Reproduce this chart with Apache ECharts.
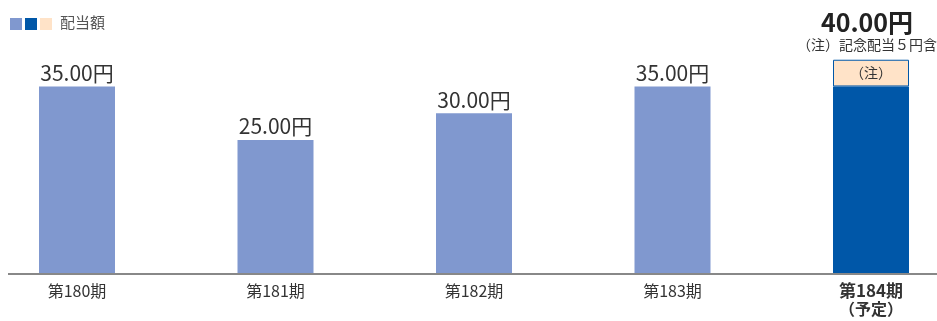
<!DOCTYPE html>
<html><head><meta charset="utf-8">
<script src="https://cdn.jsdelivr.net/npm/echarts@6/dist/echarts.min.js"></script>
<style>html,body{margin:0;padding:0;background:#fff}#c{width:937px;height:321px}</style>
</head><body><div id="c"></div>
<script>
const categories = ['第180期','第181期','第182期','第183期','第184期'];
const ordinaryDividend = [35, 25, 30, 35, 35];
const commemorativeDividend = [null, null, null, null, 5];
const forecastNote = '（予定）';
const noteMark = '（注）';
const noteText = '（注）記念配当５円含';
const legendLabel = '配当額';

const FONT = '"Noto Sans CJK JP", "Noto Sans", sans-serif';
const LIGHT = '#8098cf', DARK = '#0057a8', PEACH = '#ffe3c8';
const last = categories.length - 1;

const chart = echarts.init(document.getElementById('c'), null, {renderer: 'canvas'});
chart.setOption({
  animation: false,
  textStyle: {fontFamily: FONT},
  grid: {left: 77, right: 66, top: 6.3, bottom: 47.5, containLabel: false},
  xAxis: {
    type: 'category', data: categories, boundaryGap: false,
    axisLine: {show: false}, axisTick: {show: false},
    axisLabel: {
      interval: 0, margin: 8,
      formatter: (v, i) => i === last ? '{b|' + v + '}\n{b2|' + forecastNote + '}' : '{n|' + v + '}',
      rich: {
        n: {fontSize: 16, color: '#333', fontFamily: FONT, lineHeight: 18},
        b: {fontSize: 17, fontWeight: 'bold', color: '#333', fontFamily: FONT, lineHeight: 19},
        b2: {fontSize: 16, fontWeight: 'bold', color: '#333', fontFamily: FONT, lineHeight: 17}
      }
    }
  },
  yAxis: {type: 'value', min: 0, max: 50, show: false, splitLine: {show: false}},
  series: [
    {
      type: 'bar', stack: 'd', barWidth: 76, clip: false,
      data: ordinaryDividend.map((v, i) => ({
        value: v,
        itemStyle: {color: i === last ? DARK : LIGHT},
        label: {show: i !== last}
      })),
      label: {
        position: 'top', distance: 3, fontSize: 21, color: '#333', fontFamily: FONT,
        formatter: p => p.value.toFixed(2) + '円'
      }
    },
    {
      type: 'bar', stack: 'd', barWidth: 76, clip: false,
      data: commemorativeDividend,
      itemStyle: {color: PEACH, borderColor: DARK, borderWidth: 1},
      label: {show: true, position: 'inside', fontSize: 14, color: '#333', fontFamily: FONT,
        formatter: () => noteMark}
    },
    {
      type: 'bar', stack: 'd', barWidth: 76, clip: false,
      data: commemorativeDividend.map(v => v == null ? null : 0),
      label: {
        show: true, position: 'top', distance: 6, offset: [-4, 0],
        formatter: p => '{t|' + (ordinaryDividend[p.dataIndex] + commemorativeDividend[p.dataIndex]).toFixed(2) + '円}\n{s|' + noteText + '}',
        rich: {
          t: {fontSize: 25, fontWeight: 'bold', color: '#222', fontFamily: FONT, lineHeight: 27, align: 'center'},
          s: {fontSize: 14, color: '#333', fontFamily: FONT, lineHeight: 18, align: 'center'}
        }
      }
    }
  ],
  graphic: [
    {type: 'line', shape: {x1: 8, y1: 274, x2: 937, y2: 274}, style: {stroke: '#888', lineWidth: 2}, z: 10},
    {type: 'rect', shape: {x: 10, y: 18, width: 12, height: 12}, style: {fill: LIGHT}},
    {type: 'rect', shape: {x: 25, y: 18, width: 12, height: 12}, style: {fill: DARK}},
    {type: 'rect', shape: {x: 40, y: 18, width: 12, height: 12}, style: {fill: PEACH}},
    {type: 'text', left: 60, top: 15, style: {text: legendLabel, fontSize: 15, fontFamily: FONT, fill: '#555'}}
  ]
});
</script></body></html>
